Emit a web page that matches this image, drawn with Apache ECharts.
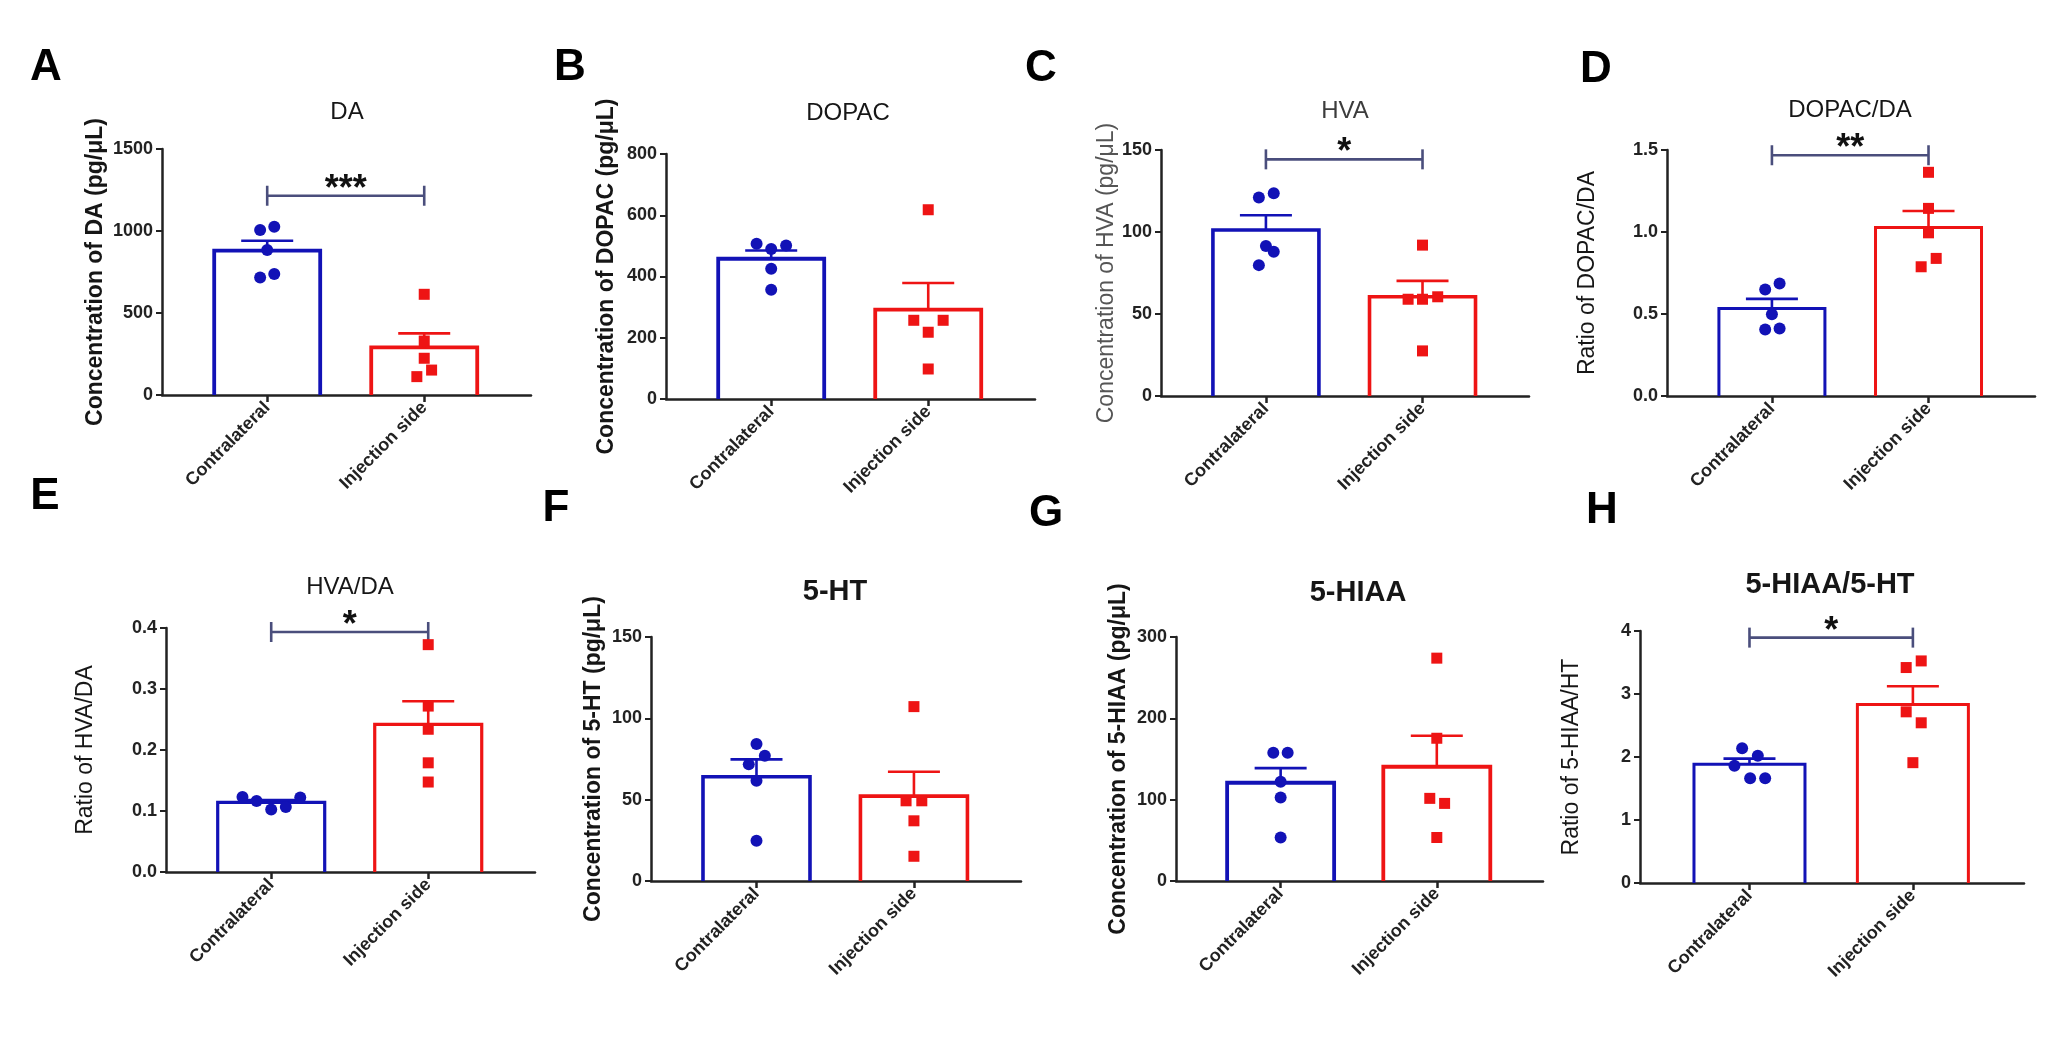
<!DOCTYPE html>
<html><head><meta charset="utf-8">
<script src="https://cdn.jsdelivr.net/npm/echarts@6/dist/echarts.min.js"></script>
<style>html,body{margin:0;padding:0;background:#fff}#c{width:2048px;height:1052px}</style>
</head><body><div id="c"></div>
<script>
// ---------- data ----------
const categories = ['Contralateral', 'Injection side'];
const panelLetters = ['A', 'B', 'C', 'D', 'E', 'F', 'G', 'H'];
const panelTitles = ['DA', 'DOPAC', 'HVA', 'DOPAC/DA', 'HVA/DA', '5-HT', '5-HIAA', '5-HIAA/5-HT'];
const yAxisNames = [
  'Concentration of DA (pg/\u03bcL)',
  'Concentration of DOPAC (pg/\u03bcL)',
  'Concentration of HVA (pg/\u03bcL)',
  'Ratio of DOPAC/DA',
  'Ratio of HVA/DA',
  'Concentration of 5-HT (pg/\u03bcL)',
  'Concentration of 5-HIAA (pg/\u03bcL)',
  'Ratio of 5-HIAA/HT'
];
const yMax = [1500, 800, 150, 1.5, 0.4, 150, 300, 4];
const yStep = [500, 200, 50, 0.5, 0.1, 50, 100, 1];
const yDecimals = [0, 0, 0, 1, 1, 0, 0, 0];

// bar means and SEM: [Contralateral, Injection side]
const meanDA = [880, 291],        semDA = [61, 85];
const meanDOPAC = [458, 292],     semDOPAC = [27, 87];
const meanHVA = [101.2, 60.5],    semHVA = [9, 9.7];
const meanDOPACDA = [0.533, 1.028], semDOPACDA = [0.059, 0.10];
const meanHVADA = [0.114, 0.242], semHVADA = [0.004, 0.038];
const mean5HT = [64.1, 52.2],     sem5HT = [10.7, 15];
const mean5HIAA = [120.8, 140.5], sem5HIAA = [18, 38];
const meanRatio5 = [1.884, 2.834], semRatio5 = [0.09, 0.29];

// individual animals: [x position (1 = Contralateral, 2 = Injection side, with jitter), value]
const ptsDA_c = [[0.955, 1006], [1.045, 1026], [1.0, 884], [0.955, 717], [1.045, 738]];
const ptsDA_i = [[2.0, 614], [2.0, 329], [2.0, 224], [2.047, 152], [1.953, 112]];
const ptsDOPAC_c = [[0.907, 507], [1.0, 490], [1.095, 501], [1.0, 425], [1.0, 357]];
const ptsDOPAC_i = [[2.0, 618], [1.908, 257], [2.095, 257], [2.0, 218], [2.0, 98]];
const ptsHVA_c = [[0.955, 121], [1.05, 123.6], [1.0, 91.4], [1.05, 87.9], [0.955, 79.8]];
const ptsHVA_i = [[2.0, 92], [1.908, 59], [2.0, 59], [2.097, 60.5], [2.0, 27.5]];
const ptsDOPACDA_c = [[0.957, 0.650], [1.049, 0.686], [1.0, 0.499], [0.957, 0.405], [1.049, 0.411]];
const ptsDOPACDA_i = [[2.0, 1.364], [2.0, 1.144], [2.0, 0.995], [2.049, 0.839], [1.953, 0.788]];
const ptsHVADA_c = [[0.817, 0.123], [0.907, 0.1164], [1.0, 0.1023], [1.093, 0.1066], [1.185, 0.122]];
const ptsHVADA_i = [[2.0, 0.3727], [2.0, 0.272], [2.0, 0.234], [2.0, 0.179], [2.0, 0.1475]];
const pts5HT_c = [[1.0, 84.2], [1.053, 77], [0.951, 71.7], [1.0, 61.6], [1.0, 24.7]];
const pts5HT_i = [[2.0, 107.2], [1.95, 49.3], [2.05, 49.3], [2.0, 37], [2.0, 15.2]];
const pts5HIAA_c = [[0.953, 157.8], [1.045, 157.8], [1.0, 122], [1.0, 102.8], [1.0, 53.5]];
const pts5HIAA_i = [[2.0, 274], [2.0, 175.5], [1.955, 101.6], [2.05, 95.4], [2.0, 53.5]];
const ptsRatio5_c = [[0.955, 2.138], [1.051, 2.021], [0.908, 1.862], [1.004, 1.663], [1.096, 1.663]];
const ptsRatio5_i = [[2.051, 3.525], [1.959, 3.42], [1.959, 2.717], [2.051, 2.543], [2.0, 1.91]];

// significance brackets (value of the bar line), null = none
const sigY = [1215, null, 144.3, 1.468, 0.3934, null, null, 3.895];
const sigLabel = ['***', '', '*', '**', '*', '', '', '*'];

const means = [meanDA, meanDOPAC, meanHVA, meanDOPACDA, meanHVADA, mean5HT, mean5HIAA, meanRatio5];
const sems = [semDA, semDOPAC, semHVA, semDOPACDA, semHVADA, sem5HT, sem5HIAA, semRatio5];
const ptsC = [ptsDA_c, ptsDOPAC_c, ptsHVA_c, ptsDOPACDA_c, ptsHVADA_c, pts5HT_c, pts5HIAA_c, ptsRatio5_c];
const ptsI = [ptsDA_i, ptsDOPAC_i, ptsHVA_i, ptsDOPACDA_i, ptsHVADA_i, pts5HT_i, pts5HIAA_i, ptsRatio5_i];

// ---------- layout / style ----------
const FONT = "'Liberation Sans', Arial, Helvetica, sans-serif";
const BLUE = '#1212b6', RED = '#ee1414', BRACKET = '#4a4e7c', INK = '#161616';
const layout = [
  {left: 162, top: 149, width: 369, height: 246, letter: [46, 68],  title: [347, 112],  tSize: 24, tWeight: 'normal', tColor: INK,    nGap: 55, nWeight: 'bold',   nColor: INK,    barW: 106, bw: 3.8},
  {left: 666, top: 154, width: 369, height: 245, letter: [570, 68], title: [848, 113],  tSize: 24, tWeight: 'normal', tColor: INK,    nGap: 48, nWeight: 'bold',   nColor: INK,    barW: 106, bw: 3.8},
  {left: 1161, top: 150, width: 368, height: 246, letter: [1041, 69], title: [1345, 111], tSize: 24, tWeight: 'normal', tColor: '#3c3c3c', nGap: 40, nWeight: 'normal', nColor: '#555', barW: 106, bw: 3.6},
  {left: 1667, top: 150, width: 368, height: 246, letter: [1596, 70], title: [1850, 110], tSize: 24, tWeight: 'normal', tColor: INK,    nGap: 68, nWeight: 'normal', nColor: INK,    barW: 106, bw: 3},
  {left: 166, top: 628, width: 369, height: 244, letter: [45, 497],  title: [350, 587],  tSize: 24, tWeight: 'normal', tColor: INK,    nGap: 69, nWeight: 'normal', nColor: INK,    barW: 107, bw: 3.2},
  {left: 651, top: 637, width: 370, height: 244, letter: [556, 509], title: [835, 592],  tSize: 29, tWeight: 'bold',   tColor: INK,    nGap: 46, nWeight: 'bold',   nColor: INK,    barW: 107, bw: 3.6},
  {left: 1176, top: 637, width: 367, height: 244, letter: [1046, 514], title: [1358, 593], tSize: 29, tWeight: 'bold', tColor: INK,    nGap: 46, nWeight: 'bold',   nColor: INK,    barW: 107, bw: 3.8},
  {left: 1640, top: 631, width: 384, height: 252, letter: [1602, 511], title: [1830, 585], tSize: 29, tWeight: 'bold', tColor: INK,    nGap: 57, nWeight: 'normal', nColor: INK,    barW: 111, bw: 3}
];

const grids = [], xAxes = [], yAxes = [], series = [], titles = [];

layout.forEach((L, i) => {
  grids.push({left: L.left, top: L.top, width: L.width, height: L.height});
  xAxes.push({
    type: 'value', gridIndex: i, min: 0.33, max: 2.68,
    splitLine: {show: false},
    axisLine: {show: true, onZero: false, lineStyle: {color: '#222', width: 2.5}},
    axisTick: {show: true, customValues: [1, 2], length: 7, lineStyle: {color: '#222', width: 2.5}},
    axisLabel: {
      show: true, customValues: [1, 2], rotate: 45, margin: 10,
      fontFamily: FONT, fontSize: 18, fontWeight: 'bold', color: '#222',
      formatter: v => categories[Math.round(v) - 1] || ''
    }
  });
  yAxes.push({
    type: 'value', gridIndex: i, min: 0, max: yMax[i], interval: yStep[i],
    splitLine: {show: false},
    axisLine: {show: true, onZero: false, lineStyle: {color: '#222', width: 2.5}},
    axisTick: {show: true, length: 6, lineStyle: {color: '#222', width: 2}},
    axisLabel: {
      margin: 9, fontFamily: FONT, fontSize: 18, fontWeight: 'bold', color: '#222',
      formatter: v => Number(v).toFixed(yDecimals[i])
    },
    name: yAxisNames[i], nameLocation: 'middle', nameGap: L.nGap,
    nameTextStyle: {fontFamily: FONT, fontSize: 23, fontWeight: L.nWeight, color: L.nColor}
  });

  const colors = [BLUE, RED];
  series.push({
    type: 'custom', xAxisIndex: i, yAxisIndex: i, z: 2,
    encode: {x: 0, y: 1},
    data: [[1, means[i][0], sems[i][0]], [2, means[i][1], sems[i][1]]],
    renderItem: (params, api) => {
      const x = api.value(0), m = api.value(1), s = api.value(2);
      const top = api.coord([x, m]);
      const base = api.coord([x, 0]);
      const cap = api.coord([x, m + s]);
      const c = colors[params.dataIndex];
      const hw = L.barW / 2;
      return {
        type: 'group',
        children: [
          {type: 'polyline', shape: {points: [[top[0] - hw, base[1]], [top[0] - hw, top[1]], [top[0] + hw, top[1]], [top[0] + hw, base[1]]]},
           style: {stroke: c, lineWidth: L.bw, fill: null, lineJoin: 'miter'}},
          {type: 'line', shape: {x1: top[0], y1: top[1], x2: top[0], y2: cap[1]}, style: {stroke: c, lineWidth: 2.6}},
          {type: 'line', shape: {x1: top[0] - 26, y1: cap[1], x2: top[0] + 26, y2: cap[1]}, style: {stroke: c, lineWidth: 2.6}}
        ]
      };
    }
  });
  series.push({
    type: 'scatter', xAxisIndex: i, yAxisIndex: i, z: 4,
    symbol: 'circle', symbolSize: 12, itemStyle: {color: BLUE, opacity: 1},
    data: ptsC[i]
  });
  series.push({
    type: 'scatter', xAxisIndex: i, yAxisIndex: i, z: 4,
    symbol: 'rect', symbolSize: 11, itemStyle: {color: RED, opacity: 1},
    data: ptsI[i]
  });
  if (sigY[i] !== null) {
    const lab = sigLabel[i];
    series.push({
      type: 'custom', xAxisIndex: i, yAxisIndex: i, z: 3,
      encode: {x: [0, 1], y: 2},
      data: [[1, 2, sigY[i]]],
      renderItem: (params, api) => {
        const p1 = api.coord([api.value(0), api.value(2)]);
        const p2 = api.coord([api.value(1), api.value(2)]);
        const st = {stroke: BRACKET, lineWidth: 2.6};
        return {
          type: 'group',
          children: [
            {type: 'line', shape: {x1: p1[0], y1: p1[1], x2: p2[0], y2: p2[1]}, style: st},
            {type: 'line', shape: {x1: p1[0], y1: p1[1] - 10, x2: p1[0], y2: p1[1] + 10}, style: st},
            {type: 'line', shape: {x1: p2[0], y1: p2[1] - 10, x2: p2[0], y2: p2[1] + 10}, style: st},
            {type: 'text', x: (p1[0] + p2[0]) / 2, y: p1[1] - 6,
             style: {text: lab, fontFamily: FONT, fontSize: 36, fontWeight: 'bold', fill: '#111', align: 'center', verticalAlign: 'middle'}}
          ]
        };
      }
    });
  }

  titles.push({
    text: panelTitles[i], left: L.title[0], top: L.title[1] - L.tSize / 2, padding: 0,
    textAlign: 'center',
    textStyle: {fontFamily: FONT, fontSize: L.tSize, fontWeight: L.tWeight, color: L.tColor}
  });
  titles.push({
    text: panelLetters[i], left: L.letter[0], top: L.letter[1] - 22, padding: 0,
    textAlign: 'center',
    textStyle: {fontFamily: FONT, fontSize: 44, fontWeight: 'bold', color: '#000'}
  });
});

const chart = echarts.init(document.getElementById('c'), null, {renderer: 'canvas'});
chart.setOption({
  backgroundColor: '#ffffff',
  animation: false,
  title: titles,
  grid: grids,
  xAxis: xAxes,
  yAxis: yAxes,
  series: series
});
</script>
</body></html>
